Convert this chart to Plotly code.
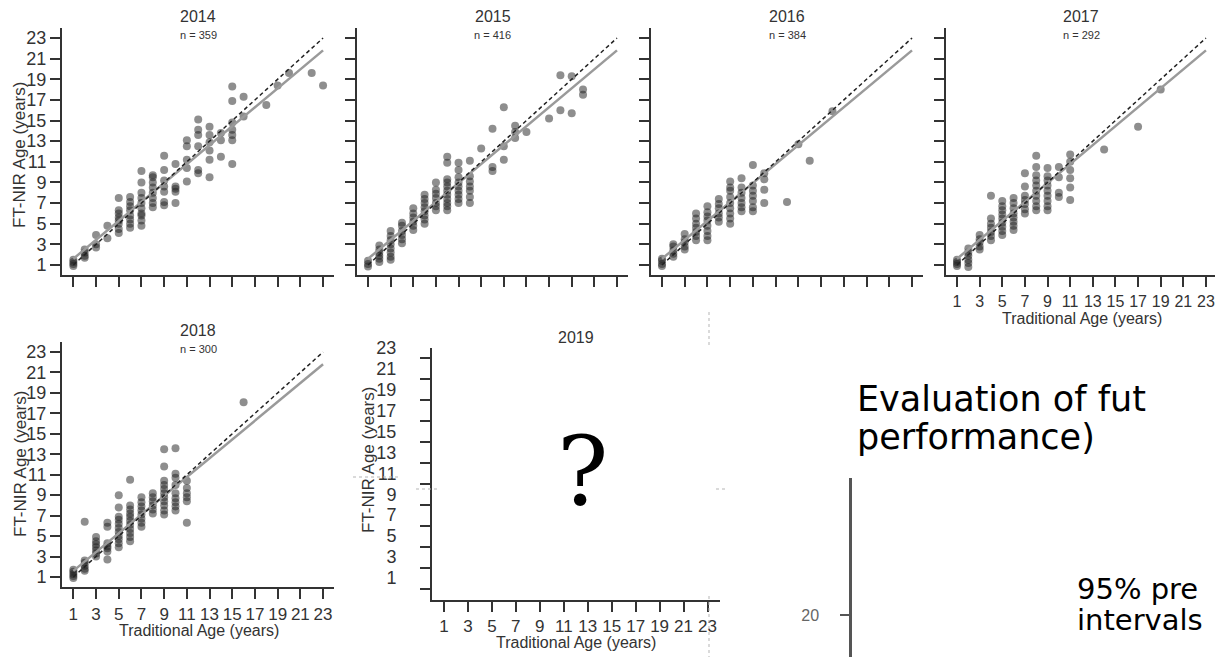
import plotly.graph_objects as go

W, H = 1215, 657

# ---------------- data ----------------
years = ["2014", "2015", "2016", "2017", "2018"]
sample_sizes = [359, 416, 384, 292, 300]
tick_values = [1, 3, 5, 7, 9, 11, 13, 15, 17, 19, 21, 23]

# FT-NIR predicted age, grouped by traditional age
ftnir_2014 = {
    1: [0.9, 1.1, 1.3, 1.5], 2: [1.7, 1.9, 2.2, 2.5], 3: [2.7, 3.0, 3.9], 4: [3.6, 4.8],
    5: [4.1, 4.5, 5.0, 5.3, 5.6, 6.0, 6.3, 7.5],
    6: [4.6, 5.0, 5.4, 5.8, 6.3, 6.7, 7.1, 7.6],
    7: [4.8, 5.3, 5.8, 6.0, 6.5, 7.0, 7.5, 8.0, 9.0, 10.1],
    8: [6.6, 7.0, 7.5, 8.0, 8.5, 9.0, 9.5, 9.7],
    9: [6.8, 7.1, 8.1, 8.6, 9.2, 10.2, 11.6],
    10: [7.0, 8.1, 8.4, 8.6, 10.8],
    11: [9.1, 10.4, 11.2, 12.5, 13.1],
    12: [9.9, 10.2, 12.5, 13.6, 14.1, 15.1],
    13: [9.5, 11.2, 12.1, 12.9, 13.6, 14.4],
    14: [11.5, 13.1, 13.8],
    15: [10.8, 13.1, 13.6, 14.1, 14.8, 16.9, 18.3],
    16: [15.4, 17.3], 18: [16.5], 19: [18.4], 20: [19.6], 22: [19.6], 23: [18.4],
}
ftnir_2015 = {
    1: [0.85, 1.1, 1.4], 2: [1.3, 1.6, 1.9, 2.2, 2.5, 2.9],
    3: [1.5, 1.8, 2.2, 2.6, 3.0, 3.4, 3.8, 4.3],
    4: [3.1, 3.5, 3.9, 4.3, 4.8, 5.1],
    5: [4.4, 4.8, 5.2, 5.6, 6.0, 6.5],
    6: [5.0, 5.4, 5.8, 6.2, 6.6, 7.0, 7.4, 7.8],
    7: [6.3, 6.7, 7.0, 7.5, 7.9, 8.3, 9.0],
    8: [6.3, 6.7, 7.0, 7.4, 7.8, 8.2, 8.6, 9.0, 9.3, 10.9, 11.5],
    9: [7.0, 7.4, 7.8, 8.2, 8.6, 9.0, 9.5, 10.2, 10.9],
    10: [7.0, 7.6, 8.2, 8.6, 9.1, 9.6, 11.1],
    11: [12.3], 12: [10.1, 10.5, 14.2], 13: [11.2, 12.5, 16.3],
    14: [13.3, 13.9, 14.5], 15: [13.9], 17: [15.2], 18: [16.0, 19.4],
    19: [15.7, 19.3], 20: [17.5, 18.0],
}
ftnir_2016 = {
    1: [0.9, 1.1, 1.4, 1.6], 2: [1.8, 2.1, 2.4, 2.8, 3.0], 3: [2.5, 2.8, 3.2, 3.5, 4.0],
    4: [3.4, 3.8, 4.2, 4.6, 5.0, 5.5, 6.0],
    5: [3.4, 3.8, 4.3, 4.8, 5.3, 5.7, 6.1, 6.7],
    6: [5.2, 5.6, 6.0, 6.5, 6.9, 7.4],
    7: [5.0, 5.5, 6.0, 6.5, 7.0, 7.6, 8.2, 8.5, 9.1],
    8: [6.2, 6.6, 7.0, 7.5, 8.0, 8.5, 9.4],
    9: [6.2, 6.6, 7.2, 7.7, 8.2, 8.7, 10.7],
    10: [7.0, 8.3, 9.3, 9.9],
    12: [7.1], 13: [12.7], 14: [11.1], 16: [15.9],
}
ftnir_2017 = {
    1: [0.9, 1.1, 1.3, 1.5], 2: [0.8, 1.2, 1.5, 1.9, 2.2, 2.6], 3: [2.5, 2.8, 3.2, 3.5, 3.9],
    4: [3.4, 3.8, 4.2, 4.6, 5.0, 5.5, 7.7],
    5: [3.9, 4.3, 4.7, 5.1, 5.5, 5.9, 6.3, 6.7, 7.2],
    6: [4.4, 4.8, 5.2, 5.6, 6.0, 6.5, 7.0, 7.5],
    7: [6.0, 6.4, 6.9, 7.3, 7.7, 8.6, 9.9],
    8: [6.3, 6.7, 7.2, 7.7, 8.2, 8.7, 9.2, 9.7, 10.5, 11.6],
    9: [6.3, 6.7, 7.2, 7.7, 8.2, 8.7, 9.2, 9.6, 10.4],
    10: [7.6, 8.0, 9.5, 10.5],
    11: [7.3, 8.5, 9.4, 10.2, 11.0, 11.7],
    14: [12.2], 17: [14.4], 19: [18.0],
}
ftnir_2018 = {
    1: [0.9, 1.1, 1.3, 1.5, 1.7], 2: [1.6, 1.8, 2.1, 2.4, 2.6, 6.4],
    3: [3.0, 3.3, 3.6, 3.9, 4.2, 4.5, 4.9],
    4: [2.7, 3.5, 3.8, 4.0, 4.3, 5.9, 6.3],
    5: [3.9, 4.3, 4.7, 5.0, 5.4, 5.8, 6.2, 6.6, 6.9, 7.8, 9.0],
    6: [4.5, 4.9, 5.3, 5.7, 6.1, 6.5, 6.9, 7.2, 7.6, 8.0, 10.5],
    7: [5.9, 6.3, 6.7, 7.1, 7.5, 7.9, 8.3, 8.8],
    8: [7.2, 7.6, 8.0, 8.4, 8.8, 9.2],
    9: [7.1, 7.5, 8.0, 8.4, 8.8, 9.2, 9.6, 10.0, 10.4, 11.8, 13.5],
    10: [7.5, 7.9, 8.3, 8.7, 9.2, 10.0, 10.7, 11.1, 13.6],
    11: [6.3, 8.4, 8.8, 9.2, 9.7, 10.4],
    16: [18.1],
}
panel_data = [ftnir_2014, ftnir_2015, ftnir_2016, ftnir_2017, ftnir_2018]

# 1:1 reference line and fitted model line
one_to_one_x = [1, 23]
one_to_one_y = [1, 23]
fit_x = [1, 23]
fit_y = [1.6, 21.8]

# ---------------- layout helpers ----------------
def fx(px):
    return px / W

def fy(py):
    return 1 - py / H

FONT = "Liberation Sans, Arial, sans-serif"
AX_COL = "#333333"

# pixel geometry: (left, right, top, bottom, x_range_max)
geom = [
    (62.0, 334.4, 27.7, 275.3, 24),     # 2014
    (356.7, 628.3, 27.7, 275.3, 24),    # 2015
    (650.6, 923.4, 27.7, 275.3, 24),    # 2016
    (945.7, 1215.0, 27.7, 275.3, 23.8), # 2017
    (62.0, 334.4, 341.8, 587.2, 24),    # 2018
    (432.0, 719.5, 348.0, 599.5, 24),   # 2019
]
show_x_labels = [False, False, False, True, True, True]
show_y_labels = [True, False, False, False, True, False]
x_label_size = [17, 17, 17, 16, 17, 17]

fig = go.Figure()

for i, data in enumerate(panel_data):
    k = "" if i == 0 else str(i + 1)
    xs, ys = [], []
    for age, vals in data.items():
        for v in vals:
            xs.append(age)
            ys.append(v)
    fig.add_trace(go.Scatter(
        x=xs, y=ys, mode="markers", xaxis="x" + k, yaxis="y" + k,
        marker=dict(size=8, color="rgba(30,30,30,0.5)", line=dict(width=0)),
        showlegend=False, hoverinfo="skip"))
    fig.add_trace(go.Scatter(
        x=fit_x, y=fit_y, mode="lines", xaxis="x" + k, yaxis="y" + k,
        line=dict(color="#9a9a9a", width=2.5), showlegend=False, hoverinfo="skip"))
    fig.add_trace(go.Scatter(
        x=one_to_one_x, y=one_to_one_y, mode="lines", xaxis="x" + k, yaxis="y" + k,
        line=dict(color="#222222", width=1.5, dash="4px,3px"), showlegend=False, hoverinfo="skip"))

# 2019 empty panel + helper axes
for k in ["6", "7", "8"]:
    fig.add_trace(go.Scatter(x=[None], y=[None], xaxis="x" + k, yaxis="y" + k,
                             showlegend=False, hoverinfo="skip"))

layout = dict(
    width=W, height=H, margin=dict(l=0, r=0, t=0, b=0),
    paper_bgcolor="white", plot_bgcolor="rgba(0,0,0,0)",
    showlegend=False,
)

for i, (l, r, t, b, xmax) in enumerate(geom):
    k = "" if i == 0 else str(i + 1)
    common = dict(
        showgrid=False, zeroline=False, showline=True, linecolor=AX_COL, linewidth=2,
        ticks="outside", ticklen=10, tickwidth=1.5, tickcolor=AX_COL,
        tickmode="array", tickvals=tick_values, fixedrange=True,
    )
    layout["xaxis" + k] = dict(common, domain=[fx(l), fx(r)], range=[0, xmax],
                               anchor="y" + k, showticklabels=show_x_labels[i],
                               tickfont=dict(family=FONT, size=x_label_size[i], color=AX_COL))
    layout["yaxis" + k] = dict(common, domain=[fy(b), fy(t)], range=[0, 24],
                               anchor="x" + k, showticklabels=show_y_labels[i],
                               tickfont=dict(family=FONT, size=18, color=AX_COL))

# 2019: labels drawn slightly above the tick marks (as in the pasted figure)
layout["xaxis7"] = dict(domain=[fx(432.0), fx(719.5)], range=[0, 24], visible=False,
                        anchor="y7", fixedrange=True)
layout["yaxis7"] = dict(domain=[fy(588.5), fy(337.0)], range=[0, 24], anchor="x7",
                        showgrid=False, zeroline=False, showline=False,
                        ticks="outside", ticklen=31, tickcolor="rgba(0,0,0,0)",
                        tickmode="array", tickvals=tick_values,
                        tickfont=dict(family=FONT, size=18, color=AX_COL), fixedrange=True)

# bottom-right fragment of another chart
layout["xaxis8"] = dict(domain=[fx(852), fx(1000)], range=[0, 1], visible=False,
                        anchor="y8", fixedrange=True)
layout["yaxis8"] = dict(domain=[0, fy(478)], range=[17.65, 27.65], anchor="x8",
                        showgrid=False, zeroline=False, showline=True,
                        linecolor="#555555", linewidth=2.5,
                        ticks="outside", ticklen=9, tickwidth=1.5, tickcolor="#555555",
                        ticklabelstandoff=18,
                        tickmode="array", tickvals=[20],
                        tickfont=dict(family=FONT, size=16, color="#666666"), fixedrange=True)

annotations = []

def add_text(text, x, y, size, color=AX_COL, family=FONT, angle=0, xanchor="center",
             yanchor="middle"):
    annotations.append(dict(text=text, x=fx(x), y=fy(y), xref="paper", yref="paper",
                            showarrow=False, textangle=angle, xanchor=xanchor,
                            yanchor=yanchor, font=dict(family=family, size=size, color=color)))

# panel titles and sample sizes
for i, yr in enumerate(years):
    l, r, t, b, xmax = geom[i]
    cx = (l + (l + 24 * (r - l) / xmax)) / 2 if xmax != 24 else (l + r) / 2
    add_text(yr, cx, t - 11, 16)
    add_text("n = " + str(sample_sizes[i]), cx, t + 7, 11)
add_text("2019", 576, 337, 16)

# axis titles
add_text("FT-NIR Age (years)", 20, 155, 17, angle=-90)
add_text("FT-NIR Age (years)", 20, 464, 17, angle=-90)
add_text("FT-NIR Age (years)", 368, 460, 17, angle=-90)
add_text("Traditional Age (years)", 1082, 319, 16)
add_text("Traditional Age (years)", 199, 630, 16)
add_text("Traditional Age (years)", 576, 642, 16)

# big question mark
add_text("?", 582, 472, 96, color="black", family="DejaVu Serif, Liberation Serif, serif")

# slide text (cut at right edge)
SLIDE = "DejaVu Sans, Noto Sans, sans-serif"
add_text("Evaluation of fut", 855, 399, 35, color="black", family=SLIDE, xanchor="left")
add_text("performance)", 855, 437, 35, color="black", family=SLIDE, xanchor="left")
add_text("95% pre", 1075, 589, 29, color="black", family=SLIDE, xanchor="left")
add_text("intervals", 1075, 620, 29, color="black", family=SLIDE, xanchor="left")

layout["annotations"] = annotations

# crop-mark dashed lines around pasted 2019 panel
shapes = []
def dash_line(x0, y0, x1, y1):
    shapes.append(dict(type="line", xref="paper", yref="paper",
                       x0=fx(x0), y0=fy(y0), x1=fx(x1), y1=fy(y1),
                       line=dict(color="#b5b5b5", width=1, dash="3px,3px")))
dash_line(709, 312, 709, 345)
dash_line(709, 596, 709, 657)
dash_line(353, 477, 398, 477)
dash_line(416, 489, 437, 489)
dash_line(716, 489, 728, 489)
layout["shapes"] = shapes

fig.update_layout(**layout)
fig.write_html("out.html")
